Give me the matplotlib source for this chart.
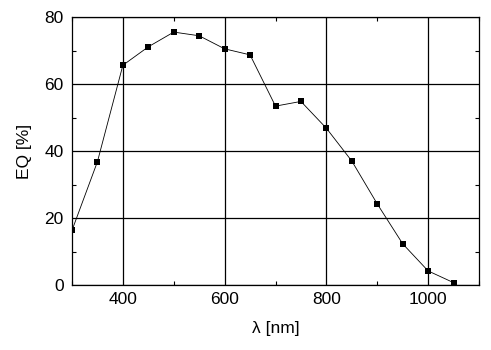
import matplotlib
matplotlib.use('Agg')
import matplotlib.pyplot as plt
from matplotlib.ticker import MultipleLocator

# Wavelength (nm) and external quantum efficiency (%)
wavelength = [300, 350, 400, 450, 500, 550, 600, 650, 700, 750,
              800, 850, 900, 950, 1000, 1050]
eq = [16.3, 36.8, 65.6, 71.1, 75.5, 74.4, 70.5, 68.7, 53.4, 54.8,
      46.8, 37.0, 24.2, 12.3, 4.2, 0.7]

plt.rcParams['font.family'] = ['Liberation Sans', 'DejaVu Sans']

fig = plt.figure(figsize=(4.91, 3.5), dpi=100)
ax = fig.add_axes([0.1466, 0.1857, 0.9756 - 0.1466, 0.9514 - 0.1857])

ax.plot(wavelength, eq, color='black', linewidth=0.6, marker='s',
        markersize=4.5, markeredgewidth=0)

ax.set_xlim(300, 1100)
ax.set_ylim(0, 80)
ax.xaxis.set_major_locator(MultipleLocator(200))
ax.xaxis.set_minor_locator(MultipleLocator(100))
ax.yaxis.set_major_locator(MultipleLocator(20))
ax.yaxis.set_minor_locator(MultipleLocator(10))

# Grid at the major ticks
ax.grid(True, which='major', color='black', linewidth=0.9)

ax.tick_params(which='both', direction='in', top=True, right=True,
               labelsize=12.5, width=0.8)
ax.tick_params(which='major', length=0, pad=5)
ax.tick_params(axis='y', which='major', pad=6)
ax.tick_params(which='minor', length=3)
for spine in ax.spines.values():
    spine.set_linewidth(0.9)

ax.set_xlabel('λ [nm]', fontsize=12.5, labelpad=10)
ax.set_ylabel('EQ [%]', fontsize=12.5, labelpad=9)

fig.savefig('out.png', dpi=100)
